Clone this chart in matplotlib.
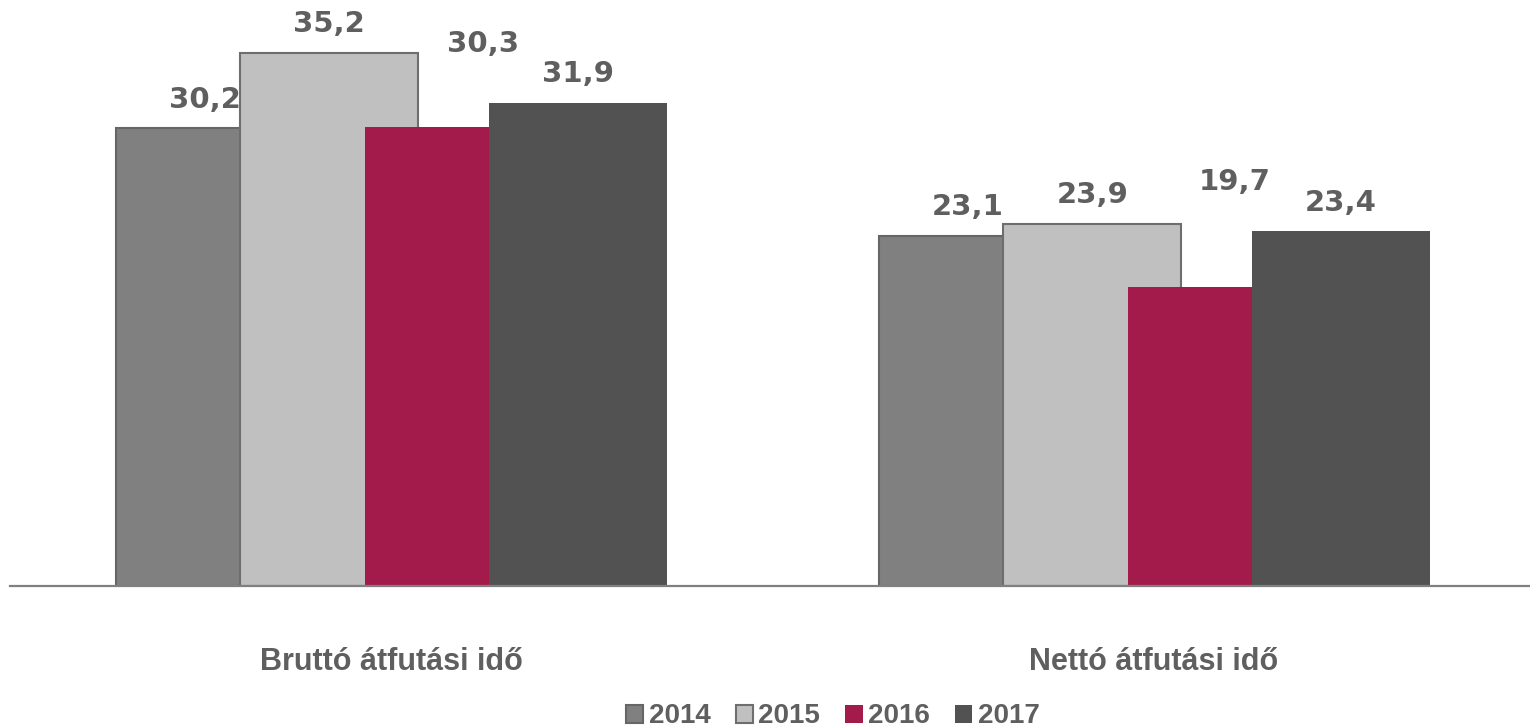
import numpy as np
import matplotlib
matplotlib.use('Agg')
import matplotlib.pyplot as plt
from matplotlib.patches import Patch

plt.rcParams['font.family'] = ['Liberation Sans', 'DejaVu Sans']

# data
categories = ['Bruttó átfutási idő', 'Nettó átfutási idő']
years = ['2014', '2015', '2016', '2017']
v2014 = [30.2, 23.1]
v2015 = [35.2, 23.9]
v2016 = [30.3, 19.7]
v2017 = [31.9, 23.4]
labels = [['30,2', '23,1'], ['35,2', '23,9'], ['30,3', '19,7'], ['31,9', '23,4']]

fills = ['#808080', '#c0c0c0', '#a31b4a', '#525252']
edges = ['#666666', '#6e6e6e', 'none', 'none']
txt_col = '#5f5f5f'

fig = plt.figure(figsize=(15.3, 7.27), dpi=100)
ax = fig.add_axes([10 / 1530, 0.1946, 1520 / 1530, 0.8054])

x = np.arange(len(categories))
# bars overlap: each is wider than the step between them
width = 0.2333
step = 0.163
first = -0.3604

series = [v2014, v2015, v2016, v2017]
# extra label shift (pixels) for the 2016 labels, as in the original
extra = {2: [(29, 54), (18, 77)]}

for i, vals in enumerate(series):
    xs = x + first + i * step
    ax.bar(xs, vals, width=width, align='edge', color=fills[i],
           edgecolor=edges[i], linewidth=1.5 if edges[i] != 'none' else 0,
           zorder=2 + i)
    for j, v in enumerate(vals):
        dx, dy = extra.get(i, [(0, 0), (0, 0)])[j]
        ax.annotate(labels[i][j], (xs[j] + width / 2, v),
                    xytext=(dx, 28.5 + dy), textcoords='offset pixels',
                    ha='center', va='center', fontsize=21, fontweight='bold',
                    family='DejaVu Sans', color=txt_col, zorder=10)

ax.axhline(0, color='#808080', lw=1.6, zorder=8, clip_on=False)

ax.set_xlim(-0.4993, 1.4928)
ax.set_ylim(0, 38.67)
ax.axis('off')

for j, c in enumerate(categories):
    ax.text(x[j], -0.1307, c, transform=ax.get_xaxis_transform(),
            ha='center', va='center', fontsize=22, fontweight='bold',
            color=txt_col)

handles = [Patch(facecolor=fills[i], edgecolor=edges[i],
                 linewidth=1.5 if edges[i] != 'none' else 0, label=years[i])
           for i in range(4)]
leg = fig.legend(handles=handles, loc='center', bbox_to_anchor=(0.5444, 0.0145),
                 ncol=4, frameon=False, fontsize=20, handlelength=0.62,
                 handleheight=0.62, handletextpad=0.2, columnspacing=0.9,
                 borderpad=0)
for t in leg.get_texts():
    t.set_color(txt_col)
    t.set_fontweight('bold')

fig.savefig('out.png', dpi=100)
